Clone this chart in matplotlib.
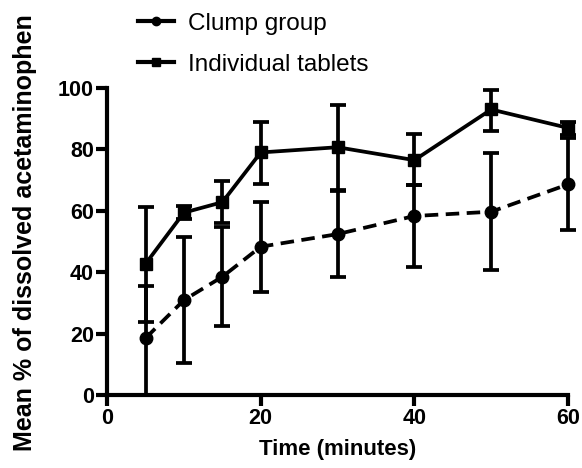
import matplotlib
import matplotlib.pyplot as plt
import numpy as np
from matplotlib.lines import Line2D

matplotlib.use("agg")

plt.rcParams["font.family"] = ["Liberation Sans", "DejaVu Sans"]

# Data
time_min = [5, 10, 15, 20, 30, 40, 50, 60]

clump_mean = [18.5, 30.9, 38.5, 48.3, 52.4, 58.3, 59.7, 68.6]
clump_err_low = [18.5, 20.6, 15.9, 14.7, 13.9, 16.5, 19.0, 14.9]
clump_err_high = [17.1, 20.7, 16.3, 14.5, 14.2, 10.1, 19.0, 15.0]

indiv_mean = [42.7, 59.4, 62.8, 79.0, 80.7, 76.5, 93.0, 87.0]
indiv_err_low = [18.8, 2.0, 6.9, 10.3, 13.9, 8.1, 7.0, 2.3]
indiv_err_high = [18.6, 2.0, 6.9, 10.0, 13.8, 8.5, 6.5, 2.0]

x_ticks = [0, 20, 40, 60]
y_ticks = [0, 20, 40, 60, 80, 100]

fig = plt.figure(figsize=(5.82, 4.68), dpi=100)
ax = fig.add_axes([0.184, 0.156, 0.792, 0.656])

lw = 2.7
ax.errorbar(time_min, clump_mean, yerr=[clump_err_low, clump_err_high],
            color="black", lw=lw, ls=(0, (3.6, 2.0)), marker="o", ms=9,
            elinewidth=lw, capsize=5.5, capthick=lw, clip_on=False, zorder=3)
ax.errorbar(time_min, indiv_mean, yerr=[indiv_err_low, indiv_err_high],
            color="black", lw=lw, ls="-", marker="s", ms=9,
            elinewidth=lw, capsize=5.5, capthick=lw, clip_on=False, zorder=3)

ax.set_xlim(0, 60)
ax.set_ylim(0, 100)
ax.set_xticks(x_ticks)
ax.set_yticks(y_ticks)
ax.spines[["top", "right"]].set_visible(False)
ax.spines[["left", "bottom"]].set_linewidth(3)
ax.tick_params(width=3, length=8, labelsize=15.5, pad=1.5)
for lab in ax.get_xticklabels() + ax.get_yticklabels():
    lab.set_fontweight("bold")

ax.set_xlabel("Time (minutes)", fontsize=16, fontweight="bold", labelpad=7)
ax.set_ylabel("Mean % of dissolved acetaminophen", fontsize=18,
              fontweight="bold", labelpad=15)
ax.yaxis.label.set_y(0.53)

handles = [
    Line2D([], [], color="black", lw=3, marker="o", ms=6),
    Line2D([], [], color="black", lw=3, marker="s", ms=6),
]
fig.legend(handles, ["Clump group", "Individual tablets"], loc="upper left",
           bbox_to_anchor=(0.2, 1.02), frameon=False, fontsize=17.5,
           handlelength=1.45, handletextpad=0.6, labelspacing=0.78)

fig.savefig("out.png", dpi=100, facecolor="white")
